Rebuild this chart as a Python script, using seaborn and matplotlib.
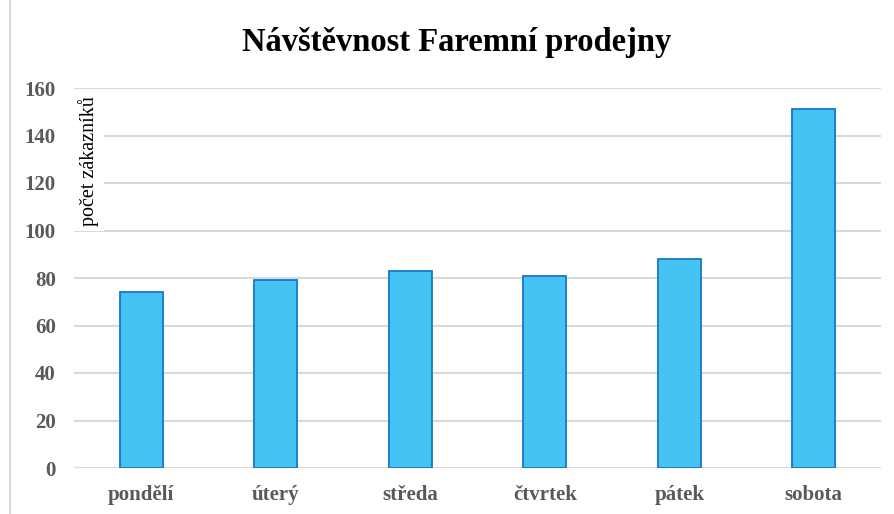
import matplotlib
matplotlib.use("Agg")
import matplotlib.pyplot as plt
import seaborn as sns
import pandas as pd
from matplotlib.lines import Line2D

days = ["pondělí", "úterý", "středa", "čtvrtek", "pátek", "sobota"]
visitors = [74, 79, 83, 81, 88, 151]
yticks = [0, 20, 40, 60, 80, 100, 120, 140, 160]

sns.set_theme(style="white")
plt.rcParams['font.family'] = ['Liberation Serif', 'DejaVu Serif']

df = pd.DataFrame({"den": days, "pocet": visitors})

fig = plt.figure(figsize=(8.94, 5.14), dpi=100)
ax = fig.add_axes([74/894, 1-468/514, (881-74)/894, (468-88)/514])

sns.barplot(data=df, x="den", y="pocet", ax=ax, width=0.32,
            color="#45C3F2", edgecolor="#1577C8", linewidth=1.3,
            saturation=1, zorder=3)
for p in ax.patches:
    p.set_facecolor("#45C3F2")

ax.set_ylim(0, 160)
ax.set_xlim(-0.5, 5.5)
ax.set_yticks(yticks)
ax.set_yticklabels([str(t) for t in yticks])
ax.yaxis.grid(True, color="#d9d9d9", linewidth=1.5, zorder=0)
ax.set_axisbelow(True)
for s in ax.spines.values():
    s.set_visible(False)
ax.tick_params(axis="y", length=0, pad=13, labelsize=15, labelcolor="#595959")
ax.tick_params(axis="x", length=0, pad=12, labelsize=15, labelcolor="#595959")
for lab in ax.get_xticklabels() + ax.get_yticklabels():
    lab.set_fontweight("bold")
ax.set_xlabel("")
ax.set_ylabel("")

# y-axis title placed inside plot with white background
ax.text(-0.5 + 15/134.5, 160 - 73/2.375, "počet zákazníků", rotation=90,
        ha="center", va="center", fontsize=14.5, color="black",
        bbox=dict(facecolor="white", edgecolor="none", pad=3.5), zorder=4)

fig.suptitle("Návštěvnost Faremní prodejny", x=457/894, y=1-42/514,
             va="center", fontsize=23.5, fontweight="bold", color="black")

# left border line of chart area
fig.add_artist(Line2D([10/894, 10/894], [0, 1], color="#d9d9d9", linewidth=1.5,
                      transform=fig.transFigure))

fig.savefig("out.png", dpi=100)
